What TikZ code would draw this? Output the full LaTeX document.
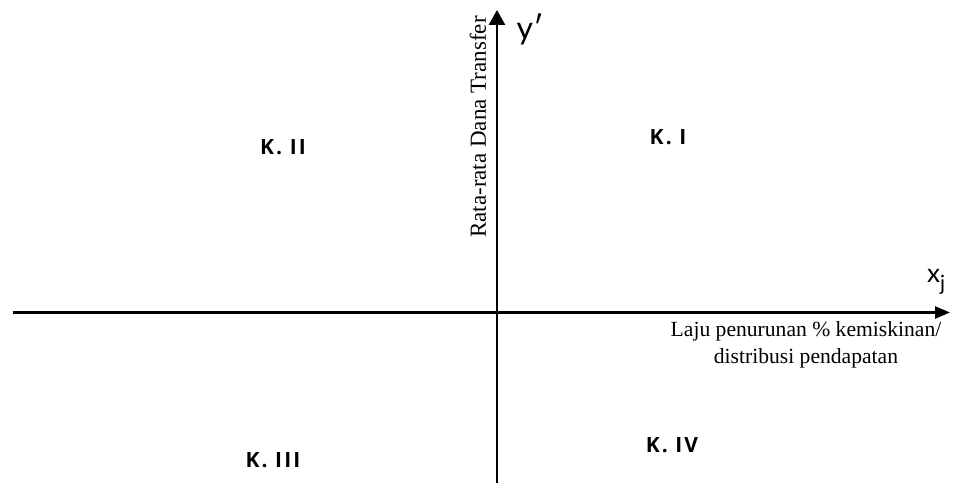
\documentclass[tikz,border=0pt]{standalone}
\usepackage{fontspec}
\setmainfont{Liberation Serif}
\newfontfamily\quadfont[LetterSpace=10]{Open Sans}
\newfontfamily\axisfont{Lato}
\usetikzlibrary{arrows.meta}
\tikzset{
  axisline/.style={line width=2.6pt},
  quadlabel/.style={font=\quadfont\bfseries\fontsize{21}{24}\selectfont, inner sep=0pt},
  seriflabel/.style={font=\fontsize{21.6}{27}\selectfont, inner sep=0pt, align=center},
  varlabel/.style={font=\axisfont\fontsize{26}{30}\selectfont, inner sep=0pt}
}
\begin{document}
\begin{tikzpicture}[x=1pt,y=-1pt]
\useasboundingbox (0,0) rectangle (956,486);
\coordinate (ybot) at (497,483);
\coordinate (ytop) at (497,10);
\coordinate (xleft) at (13,312.5);
\coordinate (xright) at (950,312.5);
\draw[axisline,-{Triangle[length=15pt,width=16pt]}] (ybot) -- (ytop);
\draw[axisline,-{Triangle[length=15pt,width=12pt]}] (xleft) -- (xright);
\node[quadlabel] (k1) at (668,137) {K. I};
\node[quadlabel] (k2) at (283,147) {K. II};
\node[quadlabel] (k3) at (273,460) {K. III};
\node[quadlabel] (k4) at (672,445) {K. IV};
\node[seriflabel] (xlab) at (806,345) {Laju penurunan \% kemiskinan/\\distribusi pendapatan};
\node[font=\fontsize{23}{27}\selectfont, inner sep=0pt, rotate=90] (ylab) at (478,127) {Rata-rata Dana Transfer};
\node[font=\axisfont\fontsize{32}{36}\selectfont, inner sep=0pt] (yvar) at (530,29) {y\char"2032};
\node[varlabel, anchor=base west] (xvar) at (927,283) {x\raisebox{-8pt}{\fontsize{21}{24}\selectfont j}};
\end{tikzpicture}
\end{document}
